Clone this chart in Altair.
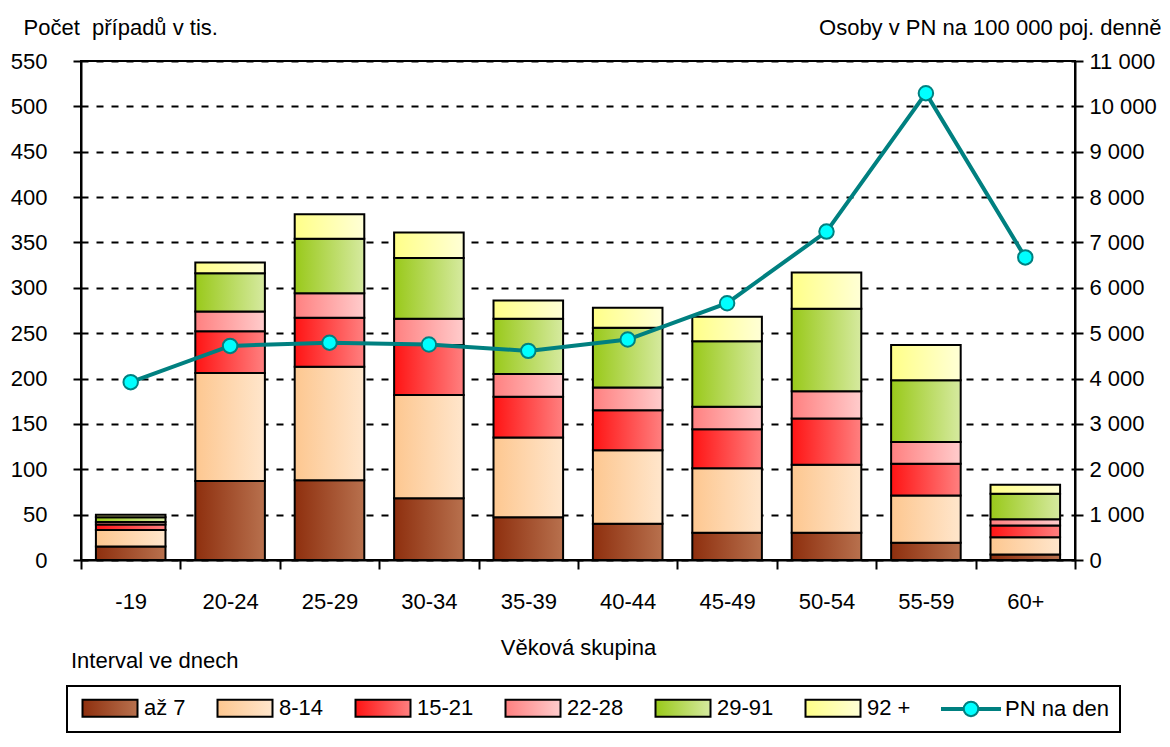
import altair as alt
import pandas as pd

# ---- data ----
ages = ['-19', '20-24', '25-29', '30-34', '35-39', '40-44', '45-49', '50-54', '55-59', '60+']
intervals = ['až 7', '8-14', '15-21', '22-28', '29-91', '92 +']

az7 = [15, 87, 88, 68, 47, 40, 30, 30, 19, 6]
d8_14 = [18, 119, 125, 114, 88, 81, 71, 75, 52, 19]
d15_21 = [6, 46, 54, 55, 45, 44, 43, 51, 35, 13]
d22_28 = [3, 22, 27, 29, 25, 25, 25, 30, 24, 7]
d29_91 = [5, 42, 60, 67, 61, 66, 72, 91, 68, 28]
d92 = [3, 12, 27, 28, 20, 22, 27, 40, 39, 10]

pn_label = 'PN na den'
pn_values = [3920, 4720, 4790, 4750, 4610, 4860, 5660, 7240, 10290, 6670]

left_ticks = list(range(0, 551, 50))
right_ticks = list(range(0, 11001, 1000))

# gradient colours (left, right) for each interval
grad_left = ['#8e2f0e', '#fdc790', '#ff1414', '#ff8080', '#99c91a', '#ffff88']
grad_right = ['#b8714e', '#ffe6cc', '#ff8080', '#ffcccc', '#d6eaa0', '#ffffd6']
line_color = '#008080'
marker_fill = '#00ffff'

FONT = 'Liberation Sans'
FS = 22

series_vals = [az7, d8_14, d15_21, d22_28, d29_91, d92]
rows = []
for k, (name, vals) in enumerate(zip(intervals, series_vals)):
    for a, v in zip(ages, vals):
        rows.append({'age': a, 'series': name, 'value': v, 'order': k})
bars_df = pd.DataFrame(rows)
line_df = pd.DataFrame({'age': ages, 'pn': pn_values, 'series': [pn_label] * len(ages)})
note_df = pd.DataFrame({'t': ['Interval ve dnech']})

x_enc = alt.X('age:N', sort=ages,
              scale=alt.Scale(paddingInner=0, paddingOuter=0),
              axis=alt.Axis(labelAngle=0, tickBand='extent', tickSize=9, tickWidth=2,
                            tickColor='black', domainColor='black', domainWidth=2,
                            labelPadding=22, labelFontSize=FS, labelColor='black',
                            labelFont=FONT, title='Věková skupina', titleFont=FONT,
                            titleFontSize=FS, titleFontWeight='normal', titleColor='black',
                            titlePadding=25, grid=False))

left_axis = alt.Axis(values=left_ticks, title='Počet\u00a0 případů v tis.', titleAngle=0,
                     titleAlign='left', titleBaseline='alphabetic', titleX=-58, titleY=-27,
                     titleFont=FONT, titleFontSize=FS, titleFontWeight='normal', titleColor='black',
                     grid=True, gridDash=[7, 8], gridColor='black', gridWidth=2,
                     domainColor='black', domainWidth=2, tickColor='black', tickSize=8,
                     tickWidth=2, labelPadding=26, labelFontSize=FS, labelFont=FONT,
                     labelColor='black')

bar_layers = []
for k, name in enumerate(intervals):
    grad = alt.LinearGradient(gradient='linear', x1=0, y1=0, x2=1, y2=0,
                              stops=[alt.GradientStop(offset=0, color=grad_left[k]),
                                     alt.GradientStop(offset=1, color=grad_right[k])])
    layer = alt.Chart(bars_df).transform_stack(
        stack='value', groupby=['age'], sort=[alt.SortField('order', order='ascending')],
        as_=['v0', 'v1']
    ).transform_filter(
        alt.datum.series == name
    ).mark_bar(color=grad, stroke='black', strokeWidth=2,
               width=alt.RelativeBandSize(0.7)).encode(
        x=x_enc,
        y=alt.Y('v0:Q', scale=alt.Scale(domain=[0, 550], nice=False), axis=left_axis),
        y2='v1:Q'
    )
    bar_layers.append(layer)
bars = alt.layer(*bar_layers)

# legend helpers (symbol unit = 5 px)
legend_labels = intervals + [pn_label]
legend_strokes = ['black'] * len(intervals) + [line_color]
rect_path = 'M-5.5,-1.7H5.5V1.7H-5.5Z'
line_path = ('M-5.8,-0.2H-1.45V0.2H-5.8Z M1.45,-0.2H5.8V0.2H1.45Z '
             'M1.45,0A1.45,1.45,0,1,1,-1.45,0A1.45,1.45,0,1,1,1.45,0Z')


def grad_js(c0, c1):
    return ("{'gradient':'linear','x1':0,'y1':0,'x2':1,'y2':0,'stops':["
            "{'offset':0,'color':'%s'},{'offset':1,'color':'%s'}]}" % (c0, c1))


labels_js = '[' + ','.join("'%s'" % s for s in legend_labels) + ']'
fill_js = ('[' + ','.join([grad_js(a, b) for a, b in zip(grad_left, grad_right)] + ["'%s'" % marker_fill])
           + '][indexof(' + labels_js + ', datum.value)]')
is_pn = "datum.value === '%s'" % pn_label

legend = alt.Legend(
    orient='none', legendX=-14, legendY=625, direction='horizontal', columns=7,
    title=None, symbolType={'expr': "%s ? '%s' : '%s'" % (is_pn, line_path, rect_path)},
    symbolSize=100, symbolFillColor={'expr': fill_js},
    symbolStrokeWidth=2, symbolOpacity=1, symbolOffset=21,
    labelExpr="datum.label === '%s' ? '\u00a0\u00a0' + datum.label : datum.label" % intervals[0],
    labelFontSize=FS, labelFont=FONT, labelColor='black',
    labelOffset=23, columnPadding=27, padding=11, strokeColor='black'
)

right_axis = alt.Axis(orient='right', values=right_ticks,
                      labelExpr="replace(format(datum.value, ','), ',', ' ')",
                      title='Osoby v PN na 100 000 poj. denně', titleAngle=0,
                      titleAlign='right', titleBaseline='alphabetic', titleX=86, titleY=-27,
                      titleFont=FONT, titleFontSize=FS, titleFontWeight='normal',
                      titleColor='black', grid=False, domainColor='black', domainWidth=2,
                      tickColor='black', tickSize=8, tickWidth=2, labelPadding=6,
                      labelFontSize=FS, labelFont=FONT, labelColor='black')

y_right = alt.Y('pn:Q', scale=alt.Scale(domain=[0, 11000], nice=False), axis=right_axis)

line = alt.Chart(line_df).mark_line().encode(
    x=x_enc, y=y_right,
    strokeWidth=alt.value(4),
    color=alt.Color('series:N', scale=alt.Scale(domain=legend_labels, range=legend_strokes),
                    legend=legend)
)
points = alt.Chart(line_df).mark_point(filled=True, size=210, fill=marker_fill,
                                       stroke=line_color, strokeWidth=2, opacity=1).encode(
    x=x_enc, y=y_right
)
line_layer = alt.layer(line, points)

note = alt.Chart(note_df).mark_text(align='left', baseline='alphabetic', fontSize=FS,
                                    font=FONT, color='black').encode(
    x=alt.value(-10), y=alt.value(607), text='t:N'
)

chart = alt.layer(bars, line_layer, note).resolve_scale(y='independent').properties(
    width=994, height=499,
    padding={'left': 73, 'top': 53, 'right': 86, 'bottom': 174},
    autosize=alt.AutoSizeParams(type='none')
).configure(font=FONT).configure_view(stroke='black', strokeWidth=2).configure_legend(strokeWidth=2)

chart.save('out.html', embed_options={'renderer': 'svg', 'actions': False})
